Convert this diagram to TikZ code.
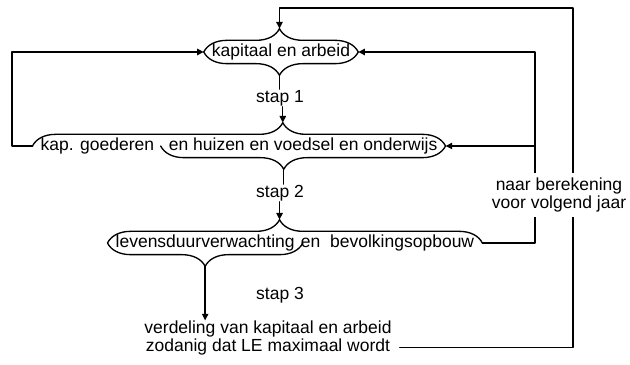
\documentclass[tikz,border=0pt]{standalone}
\usepackage{fontspec}
\setmainfont{Liberation Sans}
\usepackage{tikz}
\usetikzlibrary{arrows.meta}
\usetikzlibrary{calc}
\usetikzlibrary{decorations.pathreplacing}

\begin{document}
\begin{tikzpicture}[line cap=round,line join=round,>={Triangle[length=4pt,width=3.8pt]},x=0.6pt,y=0.6pt,line width=0.8pt,
  tekst/.style={font=\fontsize{10.5}{10.5}\selectfont,inner xsep=4.5pt,inner ysep=0pt,text height=7.6pt,text depth=2.2pt},
  blok/.style={font=\fontsize{10.5}{10.5}\selectfont,align=center,inner xsep=4.5pt,inner ysep=0pt},
  klemop/.style={decorate,decoration={brace,amplitude=14pt,aspect=#1}},
  klemop/.default=0.5,
  klemneer/.style={decorate,decoration={brace,mirror,amplitude=14pt,aspect=#1}},
  klemneer/.default=0.5]
\useasboundingbox (0,0) rectangle (630,365);
% tekstblokken
\node[tekst] (kapitaal) at (281,313) {kapitaal en arbeid};
\node[tekst,anchor=west] (goederen) at (32.5,219) {kap. goederen};
\node[tekst,anchor=west,xshift=-1pt] (huizen) at (goederen.east) {en huizen en voedsel en onderwijs};
\node[tekst,anchor=west] (levens) at (107.5,122) {levensduurverwachting};
\node[tekst,anchor=west,xshift=-6pt] (bevolking) at (levens.east) {en\ \ bevolkingsopbouw};
\node[blok] (verdeling) at (268,27) {verdeling van kapitaal en arbeid\\zodanig dat LE maximaal wordt};
\node[tekst] (stap1) at (280,267) {stap 1};
\node[tekst] (stap2) at (280,172) {stap 2};
\node[tekst] (stap3) at (280,70) {stap 3};
% accolades
\draw[klemop=0.49] (kapitaal.west) -- (kapitaal.east);
\draw[klemneer=0.49] (kapitaal.west) -- (kapitaal.east);
\draw[klemop=0.606] (goederen.west) -- (huizen.east);
\draw[klemneer=0.432] (huizen.west) -- (huizen.east);
\draw[klemop=0.459] (levens.west) -- (bevolking.east);
\draw[klemneer] (levens.west) -- (levens.east);
\coordinate (kapitaal-t) at ($(kapitaal.west)!0.49!(kapitaal.east)+(0,14pt)$);
\coordinate (kapitaal-b) at ($(kapitaal.west)!0.49!(kapitaal.east)+(0,-14pt)$);
\coordinate (goederen-t) at ($(goederen.west)!0.606!(huizen.east)+(0,14pt)$);
\coordinate (huizen-b) at ($(huizen.west)!0.432!(huizen.east)+(0,-14pt)$);
\coordinate (levens-t) at ($(levens.west)!0.459!(bevolking.east)+(0,14pt)$);
\coordinate (levens-b) at ($(levens.west)!0.5!(levens.east)+(0,-14pt)$);
% stappen
\draw (kapitaal-b) -- (kapitaal-b |- stap1.north);
\draw[->] (goederen-t |- stap1.south) -- (goederen-t);
\draw (huizen-b) -- (huizen-b |- stap2.north);
\draw[->] (levens-t |- stap2.south) -- (levens-t);
\draw[->] (levens-b) -- (levens-b |- verdeling.north);
% terugkoppeling
\coordinate (linkerrail) at (12,313);
\coordinate (binnenrail) at (535,313);
\coordinate (buitenrail) at (573,357);
\coordinate (verdeling-r) at ($(verdeling.south east)+(0,5pt)$);
\draw[->] (goederen.west) -| (linkerrail) -- (kapitaal.west);
\draw[->] (bevolking.east) -| (binnenrail) -- (kapitaal.east);
\draw[->] (binnenrail |- huizen.east) -- (huizen.east);
\draw[->] (verdeling-r) -| (buitenrail) -| (kapitaal-t);
\node[blok,fill=white,inner ysep=3pt] (berekening) at (559,170) {naar berekening\\voor volgend jaar};
\end{tikzpicture}
\end{document}
